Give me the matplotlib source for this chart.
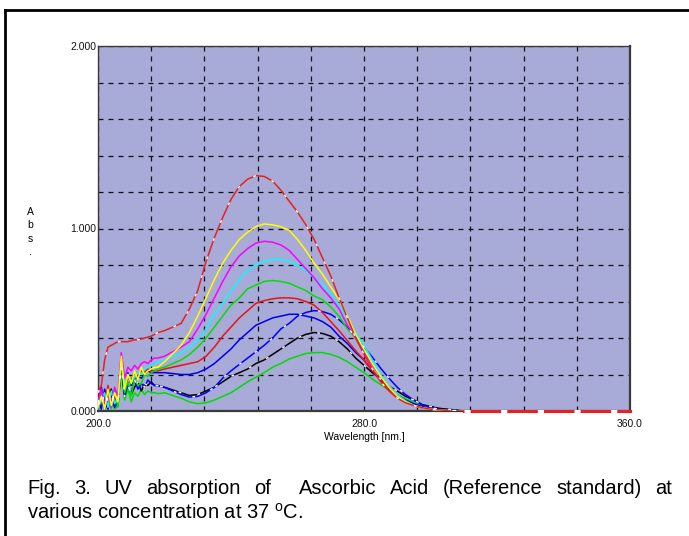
import matplotlib
matplotlib.use('Agg')
import matplotlib.pyplot as plt
from matplotlib.lines import Line2D

plt.rcParams['font.family'] = ['Liberation Sans', 'DejaVu Sans']
plt.rcParams['mathtext.fontset'] = 'custom'
plt.rcParams['mathtext.rm'] = 'Liberation Sans'

# wavelength grid (nm): 1 nm in the noisy start, then 2.5 nm steps
WL = list(range(200, 218)) + [218, 220] + [225 + 2.5 * i for i in range(33)] + [310]

# absorbance, one list per trace
red_top = [0.10, 0.14, 0.28, 0.35, 0.36, 0.37, 0.38, 0.38, 0.38, 0.38, 0.385, 0.39, 0.39, 0.395, 0.40, 0.405, 0.41, 0.42,
           0.43, 0.44,
           0.48, 0.56, 0.66, 0.82, 0.95, 1.06, 1.16, 1.23, 1.27, 1.29, 1.285, 1.26, 1.21, 1.15, 1.09, 1.02, 0.94,
           0.84, 0.74, 0.62, 0.51, 0.40, 0.31, 0.23, 0.16, 0.11, 0.07, 0.045, 0.03, 0.018, 0.01, 0.006, 0.003,
           0.0]
yellow = [0.02, 0.08, 0.01, 0.12, 0.03, 0.10, 0.05, 0.30, 0.12, 0.20, 0.15, 0.22, 0.17, 0.24, 0.20, 0.22, 0.23, 0.24,
          0.24, 0.27,
          0.36, 0.43, 0.52, 0.62, 0.72, 0.81, 0.88, 0.94, 0.98, 1.01, 1.025, 1.02, 1.01, 0.99, 0.94, 0.88, 0.81,
          0.75, 0.68, 0.61, 0.52, 0.42, 0.34, 0.26, 0.19, 0.13, 0.08, 0.05, 0.03, 0.018, 0.01, 0.005, 0.002,
          0.0]
magenta = [0.05, 0.12, 0.04, 0.09, 0.02, 0.13, 0.08, 0.32, 0.18, 0.24, 0.22, 0.25, 0.23, 0.26, 0.27, 0.26, 0.28, 0.29,
           0.29, 0.30,
           0.35, 0.38, 0.45, 0.53, 0.62, 0.71, 0.79, 0.85, 0.89, 0.92, 0.93, 0.925, 0.91, 0.88, 0.83, 0.78, 0.73,
           0.67, 0.62, 0.56, 0.47, 0.40, 0.32, 0.25, 0.19, 0.13, 0.08, 0.05, 0.03, 0.018, 0.01, 0.005, 0.002,
           0.0]
cyan = [0.03, 0.06, 0.10, 0.02, 0.11, 0.04, 0.07, 0.28, 0.14, 0.20, 0.16, 0.19, 0.21, 0.20, 0.23, 0.24, 0.25, 0.26,
        0.27, 0.28,
        0.32, 0.35, 0.39, 0.45, 0.53, 0.59, 0.66, 0.72, 0.77, 0.80, 0.82, 0.83, 0.83, 0.82, 0.80, 0.77, 0.73,
        0.69, 0.64, 0.58, 0.50, 0.43, 0.36, 0.28, 0.20, 0.14, 0.09, 0.055, 0.03, 0.018, 0.01, 0.005, 0.002,
        0.0]
green1 = [0.01, 0.09, 0.03, 0.07, 0.01, 0.12, 0.02, 0.25, 0.10, 0.16, 0.08, 0.18, 0.14, 0.15, 0.20, 0.19, 0.21, 0.22,
          0.23, 0.24,
          0.28, 0.31, 0.35, 0.40, 0.46, 0.52, 0.58, 0.62, 0.67, 0.69, 0.71, 0.715, 0.71, 0.70, 0.68, 0.66, 0.63,
          0.61, 0.57, 0.52, 0.45, 0.40, 0.33, 0.26, 0.19, 0.13, 0.09, 0.055, 0.03, 0.018, 0.01, 0.005, 0.002,
          0.0]
red2 = [0.04, 0.11, 0.02, 0.14, 0.05, 0.08, 0.03, 0.29, 0.13, 0.18, 0.17, 0.21, 0.19, 0.22, 0.21, 0.23, 0.22, 0.22,
        0.22, 0.23,
        0.25, 0.26, 0.27, 0.30, 0.35, 0.41, 0.46, 0.51, 0.55, 0.59, 0.605, 0.615, 0.62, 0.62, 0.615, 0.60, 0.58,
        0.54, 0.49, 0.44, 0.385, 0.33, 0.28, 0.22, 0.17, 0.12, 0.08, 0.05, 0.03, 0.018, 0.01, 0.005, 0.002,
        0.0]
blue1 = [0.02, 0.13, 0.05, 0.01, 0.10, 0.03, 0.06, 0.27, 0.11, 0.21, 0.14, 0.17, 0.19, 0.18, 0.20, 0.22, 0.21, 0.21,
         0.21, 0.21,
         0.20, 0.20, 0.21, 0.23, 0.26, 0.30, 0.34, 0.39, 0.43, 0.47, 0.49, 0.51, 0.52, 0.53, 0.53, 0.52, 0.51,
         0.49, 0.46, 0.41, 0.37, 0.32, 0.28, 0.22, 0.17, 0.12, 0.09, 0.06, 0.04, 0.025, 0.01, 0.005, 0.002,
         0.0]
blue2 = [0.06, 0.01, 0.12, 0.04, 0.09, 0.02, 0.05, 0.26, 0.09, 0.14, 0.10, 0.17, 0.12, 0.15, 0.13, 0.17, 0.15, 0.14,
         0.14, 0.13,
         0.09, 0.076, 0.08, 0.10, 0.13, 0.18, 0.22, 0.255, 0.29, 0.325, 0.36, 0.40, 0.45, 0.48, 0.52, 0.54, 0.55,
         0.545, 0.53, 0.50, 0.46, 0.405, 0.35, 0.295, 0.235, 0.18, 0.13, 0.09, 0.06, 0.035, 0.02, 0.01, 0.005,
         0.0]
black = [0.03, 0.10, 0.01, 0.08, 0.12, 0.03, 0.04, 0.24, 0.08, 0.15, 0.09, 0.13, 0.16, 0.11, 0.15, 0.14, 0.16, 0.14,
         0.14, 0.13,
         0.10, 0.085, 0.09, 0.11, 0.13, 0.16, 0.19, 0.21, 0.23, 0.26, 0.28, 0.31, 0.34, 0.37, 0.40, 0.42, 0.43,
         0.425, 0.41, 0.38, 0.34, 0.29, 0.25, 0.21, 0.175, 0.135, 0.11, 0.08, 0.06, 0.035, 0.025, 0.015, 0.01,
         0.0]
green2 = [0.05, 0.02, 0.09, 0.03, 0.07, 0.01, 0.03, 0.22, 0.06, 0.12, 0.05, 0.10, 0.08, 0.12, 0.09, 0.11, 0.10, 0.10,
          0.095, 0.10,
          0.07, 0.05, 0.04, 0.045, 0.06, 0.08, 0.10, 0.13, 0.16, 0.185, 0.21, 0.24, 0.26, 0.285, 0.30, 0.315, 0.32,
          0.32, 0.31, 0.295, 0.27, 0.24, 0.21, 0.175, 0.145, 0.115, 0.09, 0.065, 0.05, 0.03, 0.02, 0.012, 0.01,
          0.0]

# flat baseline after the band
TAIL_WL = [310, 360]
TAIL_ABS = [0.0, 0.0]

traces = [
    (green2, '#00dd00', False),
    (black, '#000000', True),
    (blue2, '#0000ff', True),
    (blue1, '#0000ee', False),
    (red2, '#ee1111', False),
    (green1, '#00e000', False),
    (cyan, '#00ffff', False),
    (magenta, '#ff00ff', False),
    (yellow, '#ffff00', False),
    (red_top, '#e82020', True),
]

fig = plt.figure(figsize=(6.89, 5.36), dpi=100)
ax = fig.add_axes([98 / 689, 1 - 411 / 536, 532 / 689, 365 / 536])
ax.set_facecolor('#a8aad8')

for vals, col, white in traces:
    ax.plot(WL, vals, color=col, lw=1.1, zorder=3)
    if white:
        ax.plot(WL, vals, color='white', lw=1.0, ls=(0, (2, 12)), zorder=4)

ax.plot(TAIL_WL, TAIL_ABS, color='#e82020', lw=2.2, zorder=3, clip_on=False)
ax.plot(TAIL_WL, TAIL_ABS, color='white', lw=2.2, ls=(0, (2, 10)), zorder=4, clip_on=False)

ax.set_xlim(200, 360)
ax.set_ylim(0, 2)

xt = list(range(200, 361, 16))
ax.set_xticks(xt)
ax.set_xticklabels(['%.1f' % t if t in (200, 280, 360) else '' for t in xt])
yt = [round(0.2 * i, 1) for i in range(11)]
ax.set_yticks(yt)
ax.set_yticklabels(['%.3f' % t if t in (0.0, 1.0, 2.0) else '' for t in yt])
ax.tick_params(length=0, labelsize=7.5, colors='#111111')
ax.tick_params(axis='x', pad=6)
ax.tick_params(axis='y', pad=1)
ax.grid(True, color='#111111', ls=(0, (4, 4)), lw=0.9)
ax.set_axisbelow(True)

for s in ax.spines.values():
    s.set_color('#3a3a3a')
    s.set_linewidth(1.0)
ax.spines['right'].set_linewidth(1.6)
ax.spines['bottom'].set_linewidth(1.6)

ax.set_xlabel('Wavelength [nm.]', fontsize=7.5, labelpad=2)
fig.text(30 / 689, 1 - 232 / 536, 'A\nb\ns\n.', ha='center', va='center', fontsize=7.5, linespacing=1.45)

# outer frame (cut on right and bottom)
fig.add_artist(Line2D([5 / 689, 1], [1 - 10 / 536, 1 - 10 / 536], transform=fig.transFigure, color='black', lw=2))
fig.add_artist(Line2D([5 / 689, 5 / 689], [0, 1 - 10 / 536], transform=fig.transFigure, color='black', lw=2))

# caption: first line justified between x=27 and x=672 px
words = ['Fig.', '3.', 'UV', 'absorption', 'of', 'Ascorbic', 'Acid', '(Reference', 'standard)', 'at']
gap_weight = [1, 1, 1, 1, 2, 1, 1, 1, 1]
cap_size = 14.5
renderer = fig.canvas.get_renderer()
wtexts = [fig.text(0, 1 - 494 / 536, w, fontsize=cap_size, va='baseline', ha='left') for w in words]
widths = [t.get_window_extent(renderer).width for t in wtexts]
unit = (672 - 27 - sum(widths)) / sum(gap_weight)
x = 27.0
for i, t in enumerate(wtexts):
    t.set_x(x / 689)
    x += widths[i]
    if i < len(gap_weight):
        x += unit * gap_weight[i]
fig.text(27 / 689, 1 - 519 / 536, r'various concentration at 37 $^{\rm o}$C.', fontsize=cap_size,
         va='baseline', ha='left')

fig.savefig('out.png', dpi=100)
